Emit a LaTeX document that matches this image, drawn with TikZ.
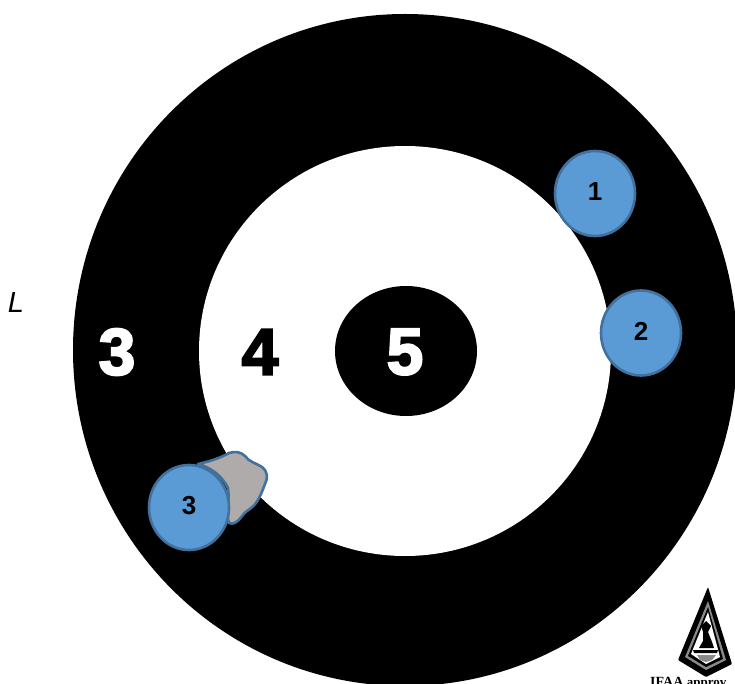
\documentclass[tikz,border=0pt]{standalone}
\usepackage{fontspec}
\setmainfont{Liberation Sans}
\newfontfamily\heavyfont[FakeBold=3]{Liberation Sans Bold}
\newfontfamily\logofont{Liberation Serif Bold}
\definecolor{hitblue}{HTML}{5B9BD5}
\definecolor{hitedge}{HTML}{41719C}
\definecolor{holegrey}{HTML}{AFABAB}
\definecolor{bandgrey}{HTML}{8A8A8A}
\tikzset{
  hit/.style={ellipse,fill=hitblue,draw=hitedge,line width=2.6pt,minimum width=80pt,minimum height=85pt,inner sep=0pt},
  hitnum/.style={inner sep=0pt,font=\bfseries\fontsize{26}{26}\selectfont,text=black},
  ringnum/.style={inner sep=0pt,font=\heavyfont\fontsize{66}{66}\selectfont},
}
\usetikzlibrary{shapes.geometric}
\begin{document}
\begin{tikzpicture}[x=1pt,y=-1pt]
\useasboundingbox (0,0) rectangle (735,684);
\clip (0,0) rectangle (735,684);
\fill[white] (0,0) rectangle (735,684);
\fill[black] (405,350) ellipse [x radius=332,y radius=336];
\fill[white] (405,351) ellipse [x radius=206,y radius=205];
\fill[black] (406,351) ellipse [x radius=71,y radius=65];
\node[ringnum,text=white] (ringthree) at (117,352) {3};
\node[ringnum,text=black] (ringfour) at (260,352) {4};
\node[ringnum,text=white] (ringfive) at (405,352) {5};
\node[inner sep=0pt,font=\itshape\fontsize{29}{29}\selectfont] (sideL) at (16,303) {L};
% damaged patch
\draw[fill=holegrey,draw=hitedge,line width=2.6pt,line join=round]
  (198,464) .. controls (212,461) and (222,457) .. (229,453)
  .. controls (235,451) and (241,452) .. (245,456)
  .. controls (249,462) and (256,463) .. (262,467)
  .. controls (268,472) and (268,478) .. (265,484)
  .. controls (262,492) and (260,497) .. (256,503)
  .. controls (252,509) and (246,510) .. (242,516)
  .. controls (238,522) and (233,525) .. (229,523)
  .. controls (226,515) and (230,505) .. (228,488)
  .. controls (222,476) and (212,468) .. (198,464) -- cycle;
\node[hit] (hitone) at (595,193.5) {};
\node[hitnum] at (hitone.center) [yshift=2pt] (numone) {1};
\node[hit] (hittwo) at (641,333) {};
\node[hitnum] at (hittwo.center) [yshift=2pt] (numtwo) {2};
\node[hit] (hitthree) at (189,507.5) {};
\node[hitnum] at (hitthree.center) [yshift=2pt] (numthree) {3};
% logo
\fill[black,rounded corners=1pt] (708,587) -- (678,660) -- (706,677) -- (732,664) -- cycle;
\fill[bandgrey] (708,601) -- (685,657) -- (706,670) -- (726,660) -- cycle;
\fill[black] (708,607) -- (688,656) -- (706,667) -- (723,659) -- cycle;
\fill[white] (708,612) -- (691,654) -- (706,664) -- (720,657) -- cycle;
\fill[black] (706,621) -- (711,626) -- (708,632) -- (712,642) -- (714,648) -- (699,648)
  -- (703,641) -- (703,632) -- (701,626) -- cycle;
\fill[black] (693,650) -- (718,650) -- (717,653) -- (694,653) -- cycle;
\fill[bandgrey] (697,655) -- (716,655) -- (712,660) -- (706,662) -- (700,660) -- cycle;
\node[inner sep=0pt,anchor=base west,font=\logofont\fontsize{14}{14}\selectfont] (logotext) at (650,686)
  {IFAA {\fontsize{13}{13}\selectfont approv}};
\end{tikzpicture}
\end{document}
